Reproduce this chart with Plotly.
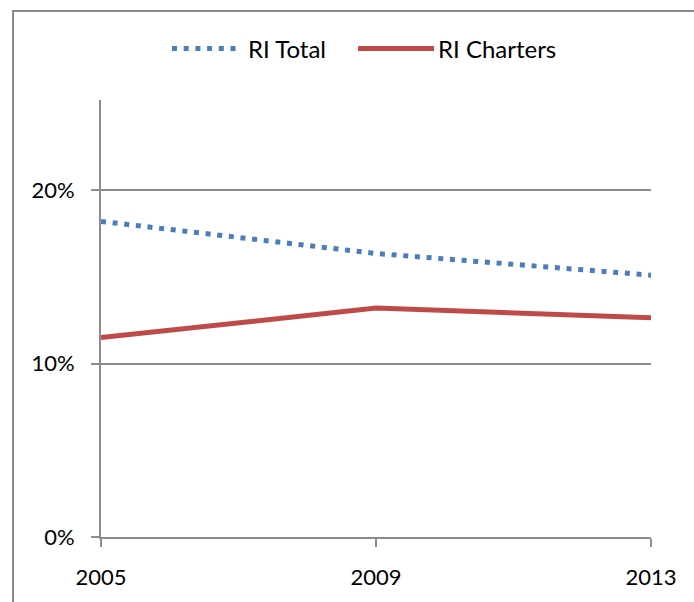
import plotly.graph_objects as go

years = [2005, 2009, 2013]
ri_total = [0.182, 0.1635, 0.151]
ri_charters = [0.115, 0.132, 0.1265]
y_ticks = [0, 0.1, 0.2]
y_tick_labels = ["0%", "10%", "20%"]
series_names = ["RI Total", "RI Charters"]

BLUE = "#4A7EBB"
RED = "#BE4B48"
GRID = "#8C8C8C"
FONT = "Lato"

W, H = 694, 602
L, R, T, B = 101, 43, 100, 60
PW, PH = W - L - R, H - T - B


def px_x(x):
    return (x - L) / PW


def px_y(y):
    return (H - B - y) / PH


fig = go.Figure()
fig.add_trace(go.Scatter(
    x=years, y=ri_total, mode="lines", name=series_names[0],
    line=dict(color=BLUE, width=5, dash="5px,6.7px"),
    showlegend=False, hoverinfo="skip",
))
fig.add_trace(go.Scatter(
    x=years, y=ri_charters, mode="lines", name=series_names[1],
    line=dict(color=RED, width=5),
    showlegend=False, hoverinfo="skip",
))

shapes = [
    # outer chart frame (left and top edges)
    dict(type="line", xref="paper", yref="paper",
         x0=px_x(13), x1=px_x(13), y0=px_y(10), y1=px_y(700),
         line=dict(color="#8A8A8A", width=2)),
    dict(type="line", xref="paper", yref="paper",
         x0=px_x(12), x1=px_x(800), y0=px_y(10), y1=px_y(10),
         line=dict(color="#8A8A8A", width=2)),
    # legend swatches
    dict(type="line", xref="paper", yref="paper",
         x0=px_x(172), x1=px_x(236), y0=px_y(48), y1=px_y(48),
         line=dict(color=BLUE, width=5, dash="5px,6.7px")),
    dict(type="line", xref="paper", yref="paper",
         x0=px_x(358), x1=px_x(434), y0=px_y(48), y1=px_y(48),
         line=dict(color=RED, width=5)),
]

annotations = [
    dict(text=series_names[0], xref="paper", yref="paper",
         x=px_x(246), y=px_y(48), xanchor="left", yanchor="middle",
         showarrow=False, font=dict(family=FONT, size=24, color="#000")),
    dict(text=series_names[1], xref="paper", yref="paper",
         x=px_x(436), y=px_y(48), xanchor="left", yanchor="middle",
         showarrow=False, font=dict(family=FONT, size=24, color="#000")),
]

fig.update_layout(
    width=W, height=H,
    margin=dict(l=L, r=R, t=T, b=B),
    paper_bgcolor="white", plot_bgcolor="white",
    font=dict(family=FONT, size=22, color="#000"),
    shapes=shapes, annotations=annotations,
    showlegend=False,
)
fig.update_xaxes(
    range=[2005, 2013], tickvals=years, ticktext=[str(v) for v in years],
    showgrid=False, zeroline=False,
    showline=True, linecolor=GRID, linewidth=2,
    ticks="outside", ticklen=8, tickwidth=2, tickcolor=GRID,
    ticklabelstandoff=12,
)
fig.update_yaxes(
    range=[0, 0.252], tickvals=y_ticks, ticktext=y_tick_labels,
    showgrid=True, gridcolor=GRID, gridwidth=2, zeroline=False,
    showline=True, linecolor=GRID, linewidth=2,
    ticks="outside", ticklen=8, tickwidth=2, tickcolor=GRID,
    ticklabelstandoff=12,
)

fig.write_html("out.html")
